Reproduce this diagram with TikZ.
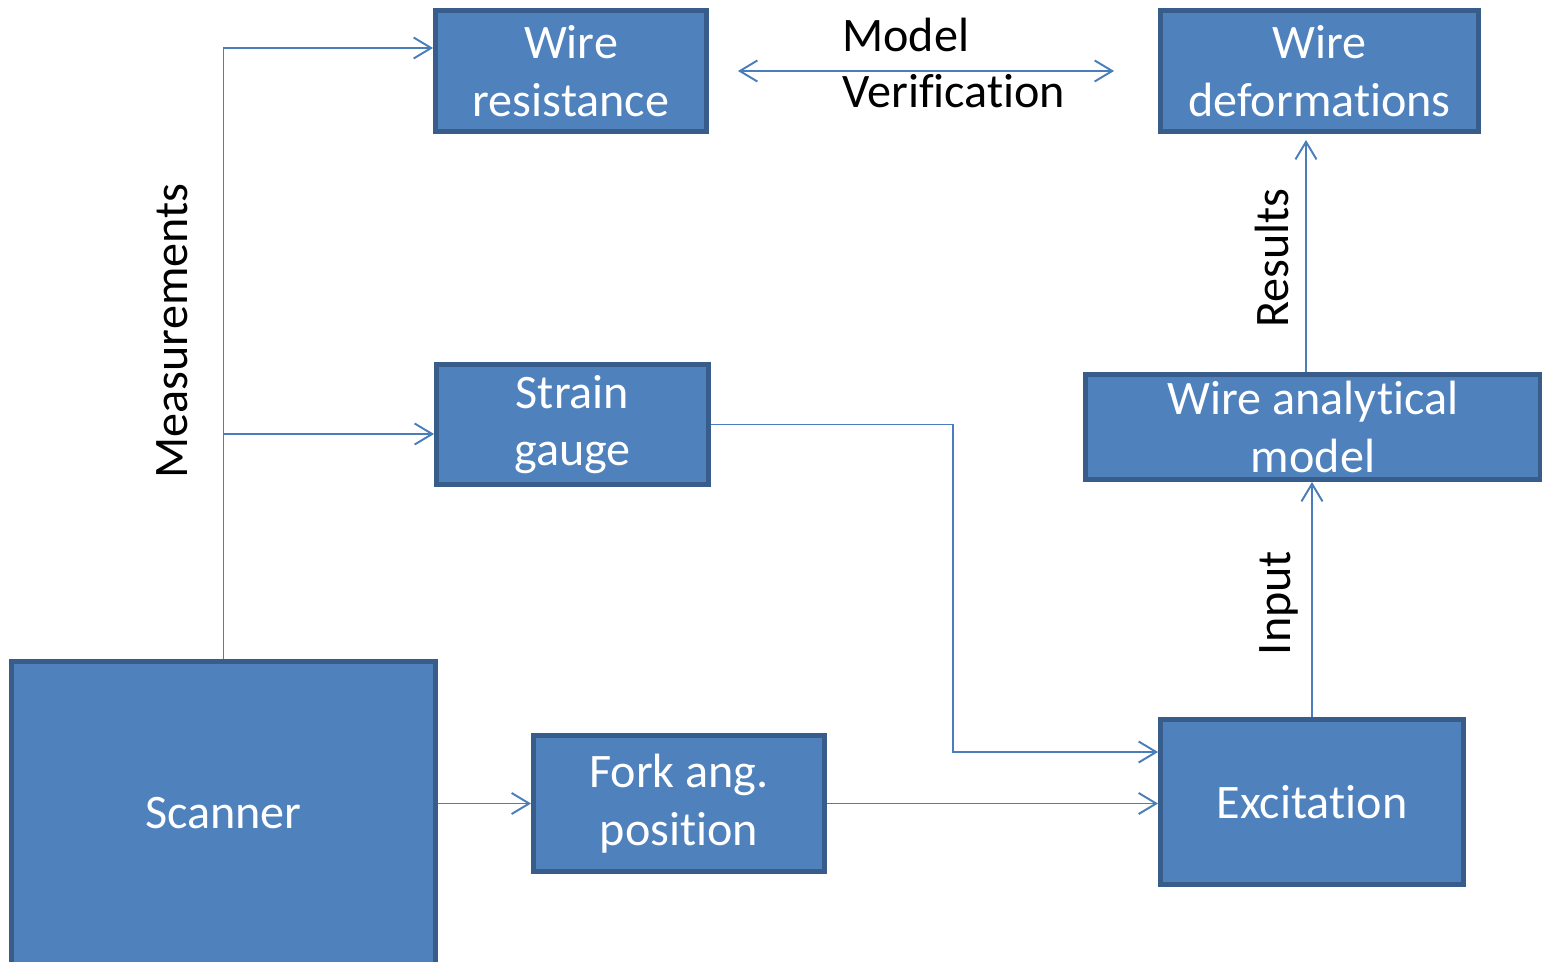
\documentclass[tikz,border=0pt]{standalone}
\usepackage{fontspec}
\setmainfont{Carlito}[Ligatures=NoCommon]
\usetikzlibrary{arrows.meta,calc}

\definecolor{boxfill}{HTML}{4F81BD}
\definecolor{boxline}{HTML}{385D8A}
\definecolor{wire}{HTML}{4A7EBB}

\tikzset{
  blockbox/.style={draw=boxline, fill=boxfill, line width=2.8pt, rectangle,
    text=white, align=center, inner sep=0pt,
    font=\fontsize{27.4}{32.8}\selectfont},
  conn/.style={draw=wire, line width=1.1pt,
    -{Straight Barb[length=10pt,width=12pt,line width=1.1pt]}},
  bothconn/.style={draw=wire, line width=1.1pt,
    {Straight Barb[length=10pt,width=12pt,line width=1.1pt]}-{Straight Barb[length=10pt,width=12pt,line width=1.1pt]}},
  caption/.style={text=black, inner sep=0pt, align=left,
    font=\fontsize{27.4}{31.4}\selectfont}
}

\begin{document}
\begin{tikzpicture}[x=0.02cm, y=-0.02cm]
  \clip (0,0) rectangle (1542,962);
  \fill[white] (0,0) rectangle (1542,962);

  % blocks
  \node[blockbox, minimum width=5.42cm, minimum height=2.42cm] (wr) at (571,71) {Wire\\resistance};
  \node[blockbox, minimum width=6.36cm, minimum height=2.42cm] (wd) at (1319.5,71) {Wire\\deformations};
  \node[blockbox, minimum width=5.44cm, minimum height=2.40cm] (sg) at (572.5,424.5) {Strain\\gauge};
  \node[blockbox, minimum width=9.10cm, minimum height=2.10cm] (wam) at (1313,427) {Wire analytical\\model};
  \node[blockbox, minimum width=8.48cm, minimum height=6.08cm] (sc) at (223.5,813.5) {Scanner};
  \node[blockbox, minimum width=5.82cm, minimum height=2.72cm] (fork) at (679,803.5) {Fork ang.\\position};
  \node[blockbox, minimum width=6.06cm, minimum height=3.30cm] (exc) at (1312,802) {Excitation};

  % routing points
  \coordinate (branch) at (223,434);
  \coordinate (bend) at (953,752);
  \coordinate (up) at ($(wam.north)+(-7,0)$);

  % measurement feeds
  \draw[conn] (sc.north) |- ($(wr.west)+(0,-23)$);
  \draw[conn] (branch) -- (branch -| sg.west);
  \draw[conn] (sc.east |- fork.west) -- (fork.west);

  % inputs to the excitation
  \draw[conn] (fork.east) -- (fork.east -| exc.west);
  \draw[conn] (sg.east) -| (bend) -- (bend -| exc.west);

  % model chain
  \draw[conn] (exc.north) -- (exc.north |- wam.south);
  \draw[conn, shorten >=0.12cm] (up) -- (up |- wd.south);

  % verification link
  \draw[bothconn, shorten <=0.58cm, shorten >=0.88cm] (wr.east) -- (wd.west);

  % labels
  \node[caption, anchor=west] (mv) at (842,63) {Model\\Verification};
  \node[caption, rotate=90] (meas) at (172,331) {Measurements};
  \node[caption, rotate=90] (res) at (1272,258) {Results};
  \node[caption, rotate=90] (inp) at (1279,603) {Input};
\end{tikzpicture}
\end{document}
